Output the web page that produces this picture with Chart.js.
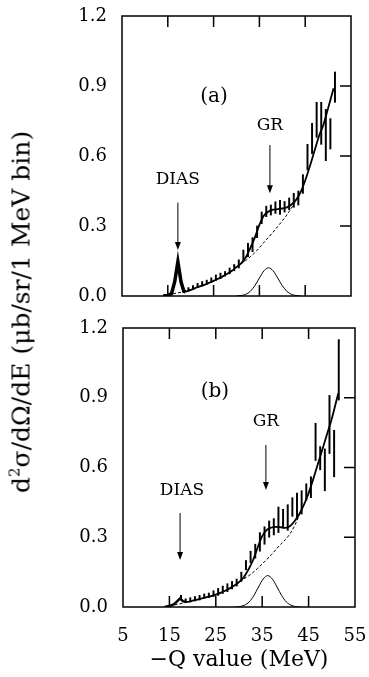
<!DOCTYPE html>
<html>
<head>
<meta charset="utf-8">
<script src="https://cdn.jsdelivr.net/npm/chart.js@4.4.1/dist/chart.umd.min.js"></script>
<style>
  html, body { margin: 0; padding: 0; background: #fff; }
  #wrap { position: relative; width: 369px; height: 677px; overflow: hidden; }
  #ca { position: absolute; left: 0; top: 0; }
  #cb { position: absolute; left: 0; top: 312px; }
  #ylab {
    position: absolute; left: 21px; top: 312px;
    transform: translate(-50%, -50%) rotate(-90deg);
    white-space: nowrap; font: 25px "DejaVu Serif"; color: #000;
  }
  #ylab sup { font-size: 0.6em; vertical-align: 0.7em; line-height: 0; }
</style>
</head>
<body>
<div id="wrap">
  <canvas id="ca" width="369" height="312"></canvas>
  <canvas id="cb" width="369" height="365"></canvas>
  <div id="ylab">d<sup>2</sup>σ/dΩ/dE (μb/sr/1 MeV bin)</div>
</div>
<script>
// ---- panel (a) ----
const diasAx = [14, 15, 15.8, 16.5, 17.2, 17.9, 18.5, 18.9];
const diasAy = [0, 0.002, 0.01, 0.06, 0.147, 0.06, 0.02, 0.018];

const fitAx = [18.9, 20, 21, 22, 23, 24, 25, 26, 27, 28, 29, 30, 31, 32, 33, 34, 35, 36, 37, 38, 39, 40, 41, 42, 43, 44, 45, 46, 47, 48, 49, 50, 51.2];
const fitAy = [0.018, 0.026, 0.034, 0.041, 0.048, 0.056, 0.065, 0.074, 0.084, 0.095, 0.108, 0.124, 0.14, 0.165, 0.205, 0.25, 0.305, 0.345, 0.362, 0.37, 0.372, 0.375, 0.38, 0.392, 0.412, 0.445, 0.495, 0.555, 0.62, 0.685, 0.735, 0.805, 0.89];

const bgAx = [14, 15, 16, 17, 18, 19, 20, 21, 22, 23, 24, 25, 26, 27, 28, 29, 30, 31, 32, 33, 34, 35, 36, 37, 38, 39, 40, 41, 42, 43, 44];
const bgAy = [0.003, 0.006, 0.009, 0.013, 0.016, 0.02, 0.026, 0.034, 0.041, 0.048, 0.056, 0.065, 0.074, 0.084, 0.095, 0.108, 0.124, 0.138, 0.152, 0.168, 0.186, 0.207, 0.23, 0.252, 0.274, 0.298, 0.322, 0.348, 0.377, 0.41, 0.445];

const grAx = [30, 31, 32, 33, 34, 35, 36, 37, 38, 39, 40, 41, 42, 43, 44];
const grAy = [0, 0.002, 0.007, 0.02, 0.044, 0.077, 0.108, 0.121, 0.108, 0.077, 0.044, 0.02, 0.007, 0.002, 0];

const errAx = [19.5, 20.5, 21.5, 22.5, 23.5, 24.5, 25.5, 26.5, 27.5, 28.5, 29.5, 30.5, 31.5, 32.5, 33.5, 34.5, 35.5, 36.5, 37.5, 38.5, 39.5, 40.5, 41.5, 42.5, 43.5, 44.5, 45.5, 46.5, 47.5, 48.5, 49.5, 50.5, 51.5];
const errAlo = [0.02, 0.028, 0.036, 0.043, 0.05, 0.058, 0.066, 0.074, 0.085, 0.095, 0.108, 0.12, 0.147, 0.168, 0.19, 0.25, 0.31, 0.34, 0.347, 0.354, 0.35, 0.36, 0.37, 0.38, 0.39, 0.44, 0.54, 0.61, 0.68, 0.65, 0.58, 0.63, 0.83];
const errAhi = [0.036, 0.045, 0.054, 0.062, 0.068, 0.078, 0.09, 0.098, 0.105, 0.12, 0.135, 0.155, 0.197, 0.226, 0.25, 0.3, 0.36, 0.385, 0.39, 0.404, 0.41, 0.405, 0.42, 0.44, 0.45, 0.52, 0.65, 0.74, 0.83, 0.83, 0.8, 0.76, 0.96];

// ---- panel (b) ----
const diasBx = [14, 15, 16, 16.7, 17.3, 17.9, 18.5];
const diasBy = [0, 0.004, 0.012, 0.025, 0.037, 0.025, 0.022];

const fitBx = [18.5, 19, 20, 21, 22, 23, 24, 25, 26, 27, 28, 29, 30, 31, 32, 33, 34, 35, 36, 37, 38, 39, 40, 41, 42, 43, 44, 45, 46, 47, 48, 49, 50, 51.4];
const fitBy = [0.022, 0.022, 0.027, 0.032, 0.037, 0.042, 0.047, 0.053, 0.061, 0.07, 0.08, 0.092, 0.107, 0.127, 0.16, 0.2, 0.255, 0.305, 0.332, 0.342, 0.345, 0.343, 0.34, 0.348, 0.37, 0.4, 0.44, 0.49, 0.55, 0.615, 0.68, 0.745, 0.81, 0.92];

const bgBx = [14, 15, 16, 17, 18, 19, 20, 21, 22, 23, 24, 25, 26, 27, 28, 29, 30, 31, 32, 33, 34, 35, 36, 37, 38, 39, 40, 41, 42, 43, 44];
const bgBy = [0.002, 0.005, 0.009, 0.013, 0.017, 0.022, 0.027, 0.032, 0.037, 0.042, 0.047, 0.053, 0.061, 0.07, 0.08, 0.092, 0.107, 0.12, 0.133, 0.148, 0.166, 0.185, 0.205, 0.225, 0.248, 0.27, 0.29, 0.315, 0.35, 0.395, 0.44];

const grBx = [29.2, 30.2, 31.2, 32.2, 33.2, 34.2, 35.2, 36.2, 37.2, 38.2, 39.2, 40.2, 41.2, 42.2, 43.2];
const grBy = [0, 0.002, 0.008, 0.022, 0.049, 0.086, 0.12, 0.135, 0.12, 0.086, 0.049, 0.022, 0.008, 0.002, 0];

const errBx = [17.5, 18.5, 19.5, 20.5, 21.5, 22.5, 23.5, 24.5, 25.5, 26.5, 27.5, 28.5, 29.5, 30.5, 31.5, 32.5, 33.5, 34.5, 35.5, 36.5, 37.5, 38.5, 39.5, 40.5, 41.5, 42.5, 43.5, 44.5, 45.5, 46.5, 47.5, 48.5, 49.5, 50.5, 51.5];
const errBlo = [0.03, 0.02, 0.022, 0.026, 0.03, 0.036, 0.04, 0.045, 0.05, 0.058, 0.066, 0.078, 0.09, 0.11, 0.16, 0.19, 0.21, 0.24, 0.27, 0.3, 0.31, 0.32, 0.34, 0.33, 0.39, 0.38, 0.4, 0.46, 0.47, 0.63, 0.59, 0.5, 0.66, 0.56, 0.89];
const errBhi = [0.05, 0.035, 0.04, 0.045, 0.05, 0.056, 0.06, 0.07, 0.08, 0.09, 0.1, 0.11, 0.12, 0.15, 0.2, 0.24, 0.27, 0.32, 0.345, 0.37, 0.38, 0.43, 0.42, 0.44, 0.47, 0.49, 0.5, 0.53, 0.56, 0.79, 0.69, 0.68, 0.91, 0.76, 1.15];

// axis ticks
const xTickVals = [5, 15, 25, 35, 45, 55];
const xInner = [15, 25, 35, 45];
const yInner = [0.3, 0.6, 0.9];

// labels and arrows, in data units
const notesA = [
  { text: '(a)', x: 25.1, y: 0.853, size: 20 },
  { text: 'GR', x: 37.3, y: 0.73, size: 17 },
  { text: 'DIAS', x: 17.2, y: 0.50, size: 17 },
];
const arrowsA = [
  { x: 17.2, from: 0.40, to: 0.197 },
  { x: 37.3, from: 0.647, to: 0.44 },
];
const notesB = [
  { text: '(b)', x: 24.8, y: 0.925, size: 20 },
  { text: 'GR', x: 35.8, y: 0.796, size: 17 },
  { text: 'DIAS', x: 17.7, y: 0.499, size: 17 },
];
const arrowsB = [
  { x: 17.3, from: 0.404, to: 0.202 },
  { x: 35.8, from: 0.697, to: 0.503 },
];

const FONT = 'DejaVu Serif';
const pts = (xs, ys) => xs.map((x, i) => ({ x, y: ys[i] }));
const bars = (xs, lo, hi) => xs.map((x, i) => ({ x, y: [lo[i], hi[i]] }));

const framePlugin = {
  id: 'frame',
  afterDraw(chart) {
    const { ctx, chartArea: a, scales: { x, y } } = chart;
    const opts = chart.options.plugins.frame;
    ctx.save();
    ctx.strokeStyle = '#000';
    ctx.lineWidth = 1.5;
    ctx.strokeRect(a.left, a.top, a.right - a.left, a.bottom - a.top);
    ctx.beginPath();
    xInner.forEach((v) => {
      const px = x.getPixelForValue(v);
      ctx.moveTo(px, a.top); ctx.lineTo(px, a.top + 11);
      ctx.moveTo(px, a.bottom); ctx.lineTo(px, a.bottom - 11);
    });
    yInner.forEach((v) => {
      const py = y.getPixelForValue(v);
      ctx.moveTo(a.right, py); ctx.lineTo(a.right - 11, py);
    });
    ctx.stroke();

    // arrows
    ctx.lineWidth = 1;
    ctx.fillStyle = '#000';
    opts.arrows.forEach((ar) => {
      const px = x.getPixelForValue(ar.x);
      const p1 = y.getPixelForValue(ar.from);
      const p2 = y.getPixelForValue(ar.to);
      ctx.beginPath();
      ctx.moveTo(px, p1); ctx.lineTo(px, p2 - 6);
      ctx.stroke();
      ctx.beginPath();
      ctx.moveTo(px - 3, p2 - 8); ctx.lineTo(px + 3, p2 - 8); ctx.lineTo(px, p2);
      ctx.closePath();
      ctx.fill();
    });

    // texts
    ctx.textAlign = 'center';
    ctx.textBaseline = 'middle';
    opts.notes.forEach((n) => {
      ctx.font = `${n.size}px "${FONT}"`;
      ctx.fillText(n.text, x.getPixelForValue(n.x), y.getPixelForValue(n.y));
    });
    ctx.restore();
  },
};

function makePanel(id, p) {
  const ctx = document.getElementById(id).getContext('2d');
  return new Chart(ctx, {
    type: 'line',
    data: {
      datasets: [
        { type: 'bar', data: bars(p.ex, p.elo, p.ehi), backgroundColor: '#000', borderWidth: 0, barThickness: 1.3, grouped: false },
        { data: pts(p.bx, p.by), borderColor: '#000', borderWidth: 1, borderDash: [3, 2], pointRadius: 0, tension: 0.4, cubicInterpolationMode: 'monotone' },
        { data: pts(p.gx, p.gy), borderColor: '#000', borderWidth: 1, pointRadius: 0, tension: 0.4, cubicInterpolationMode: 'monotone' },
        { data: pts(p.fx, p.fy), borderColor: '#000', borderWidth: 1.8, pointRadius: 0, tension: 0.4, cubicInterpolationMode: 'monotone' },
        { data: pts(p.dx, p.dy), borderColor: '#000', borderWidth: p.dw, pointRadius: 0, tension: 0 },
      ],
    },
    options: {
      responsive: false,
      devicePixelRatio: 1,
      animation: false,
      layout: { padding: p.pad },
      plugins: {
        legend: { display: false },
        tooltip: { enabled: false },
        frame: { notes: p.notes, arrows: p.arrows },
      },
      scales: {
        x: {
          type: 'linear', min: 5, max: 55, offset: false,
          display: p.showX,
          grid: { display: false, drawTicks: false },
          border: { display: false },
          afterBuildTicks: (s) => { s.ticks = xTickVals.map((v) => ({ value: v })); },
          ticks: { color: '#000', font: { family: FONT, size: 18 }, padding: 19, maxRotation: 0, autoSkip: false },
          title: { display: p.showX, text: '−Q value (MeV)', color: '#000', font: { family: FONT, size: 22 }, padding: { top: 0, bottom: 4 } },
          afterFit: (s) => {
            if (p.showX) s.height = 70;
            s.paddingLeft = 0; s.paddingRight = 0;
          },
        },
        y: {
          min: 0, max: 1.2,
          grid: { display: false, drawTicks: false },
          border: { display: false },
          ticks: { stepSize: 0.3, color: '#000', font: { family: FONT, size: 18 }, padding: 15, callback: (v) => v.toFixed(1) },
          afterFit: (s) => {
            s.width = p.yw;
            s.paddingTop = 0; s.paddingBottom = 0;
          },
        },
      },
    },
    plugins: [framePlugin],
  });
}

makePanel('ca', {
  ex: errAx, elo: errAlo, ehi: errAhi,
  bx: bgAx, by: bgAy, gx: grAx, gy: grAy, fx: fitAx, fy: fitAy,
  dx: diasAx, dy: diasAy, dw: 3.5,
  notes: notesA, arrows: arrowsA,
  showX: false, yw: 122,
  pad: { top: 16, right: 18, bottom: 16, left: 0 },
});

makePanel('cb', {
  ex: errBx, elo: errBlo, ehi: errBhi,
  bx: bgBx, by: bgBy, gx: grBx, gy: grBy, fx: fitBx, fy: fitBy,
  dx: diasBx, dy: diasBy, dw: 2.5,
  notes: notesB, arrows: arrowsB,
  showX: true, yw: 123,
  pad: { top: 16, right: 14, bottom: 0, left: 0 },
});
</script>
</body>
</html>
